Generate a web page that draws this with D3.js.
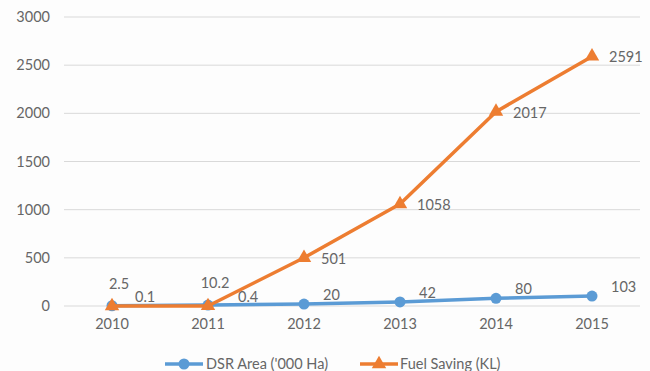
<!DOCTYPE html>
<html><head><meta charset="utf-8">
<script src="https://cdn.jsdelivr.net/npm/d3@7"></script>
<style>
html,body{margin:0;padding:0;background:#fdfdfd;}
text{font-family:Lato,"Open Sans",sans-serif;fill:#666666;}
</style></head>
<body><svg id="c" width="650" height="371"></svg>
<script>
const years = ["2010","2011","2012","2013","2014","2015"];
const dsrArea = [2.5, 10.2, 20, 42, 80, 103];
const fuelSaving = [0.1, 0.4, 501, 1058, 2017, 2591];
const yTicks = [0, 500, 1000, 1500, 2000, 2500, 3000];
const seriesNames = ["DSR Area ('000 Ha)", "Fuel Saving (KL)"];

const blue = "#5B9BD5", orange = "#ED7D31";
const fs = "14.5px";
const svg = d3.select("#c");
svg.append("rect").attr("width",650).attr("height",371).attr("fill","#fdfdfd");

const x = d3.scaleBand().domain(years).range([64, 640]);
const y = d3.scaleLinear().domain([0, 3000]).range([306, 17]);
const cx = d => x(d) + x.bandwidth()/2;

// gridlines
svg.append("g").selectAll("line").data(yTicks).join("line")
  .attr("x1", 64).attr("x2", 640)
  .attr("y1", d => y(d)).attr("y2", d => y(d))
  .attr("stroke", "#d9d9d9").attr("stroke-width", 1);

// y axis labels
const ya = svg.append("g").attr("transform","translate(50,0)")
  .call(d3.axisLeft(y).tickValues(yTicks).tickFormat(d3.format("d")).tickSize(0).tickPadding(0));
ya.select(".domain").remove();
ya.selectAll("text").style("font-size",fs).attr("fill","#666666")
  .style("font-family","Lato,'Open Sans',sans-serif");

// x axis labels
const xa = svg.append("g").attr("transform","translate(0,318)")
  .call(d3.axisBottom(x).tickSize(0).tickPadding(0));
xa.select(".domain").remove();
xa.selectAll("text").style("font-size",fs).attr("fill","#666666")
  .attr("dy","0.75em").style("font-family","Lato,'Open Sans',sans-serif");

const line = d3.line().x((d,i) => cx(years[i])).y(d => y(d));
const tri = d3.symbol().type(d3.symbolTriangle).size(90);

// DSR series
svg.append("path").datum(dsrArea).attr("d", line)
  .attr("fill","none").attr("stroke", blue).attr("stroke-width", 3.5).attr("stroke-linejoin","round");
svg.append("g").selectAll("circle").data(dsrArea).join("circle")
  .attr("cx",(d,i)=>cx(years[i])).attr("cy",d=>y(d)).attr("r",5.5).attr("fill",blue);

// Fuel series
svg.append("path").datum(fuelSaving).attr("d", line)
  .attr("fill","none").attr("stroke", orange).attr("stroke-width", 3.5).attr("stroke-linejoin","round");
svg.append("g").selectAll("path").data(fuelSaving).join("path")
  .attr("d", tri)
  .attr("transform",(d,i)=>`translate(${cx(years[i])},${y(d)})`).attr("fill",orange);

// data labels
svg.append("g").selectAll("text").data(dsrArea).join("text")
  .attr("x",(d,i)=> i < 2 ? cx(years[i]) + 7 : cx(years[i]) + 19)
  .attr("y",(d,i)=> i < 2 ? y(d) - 22 : y(d) - 9)
  .attr("dy","0.35em")
  .attr("text-anchor",(d,i)=> i < 2 ? "middle" : "start")
  .style("font-size",fs).text(d => d);
svg.append("g").selectAll("text").data(fuelSaving).join("text")
  .attr("x",(d,i)=> i === 0 ? cx(years[i]) + 23 : i === 1 ? cx(years[i]) + 30 : cx(years[i]) + 17)
  .attr("y",(d,i)=> i < 2 ? y(d) - 9 : y(d) + 1)
  .attr("dy","0.35em")
  .style("font-size",fs).text(d => d);

// legend
const lg = svg.append("g");
lg.append("line").attr("x1",165).attr("x2",203).attr("y1",364).attr("y2",364)
  .attr("stroke",blue).attr("stroke-width",3.5);
lg.append("circle").attr("cx",184).attr("cy",364).attr("r",5.5).attr("fill",blue);
lg.append("text").attr("x",206).attr("y",364).attr("dy","0.35em").style("font-size",fs).text(seriesNames[0]);
lg.append("line").attr("x1",360).attr("x2",398).attr("y1",364).attr("y2",364)
  .attr("stroke",orange).attr("stroke-width",3.5);
lg.append("path").attr("d",tri).attr("transform","translate(379,364)").attr("fill",orange);
lg.append("text").attr("x",400).attr("y",364).attr("dy","0.35em").style("font-size",fs).text(seriesNames[1]);
</script></body></html>
